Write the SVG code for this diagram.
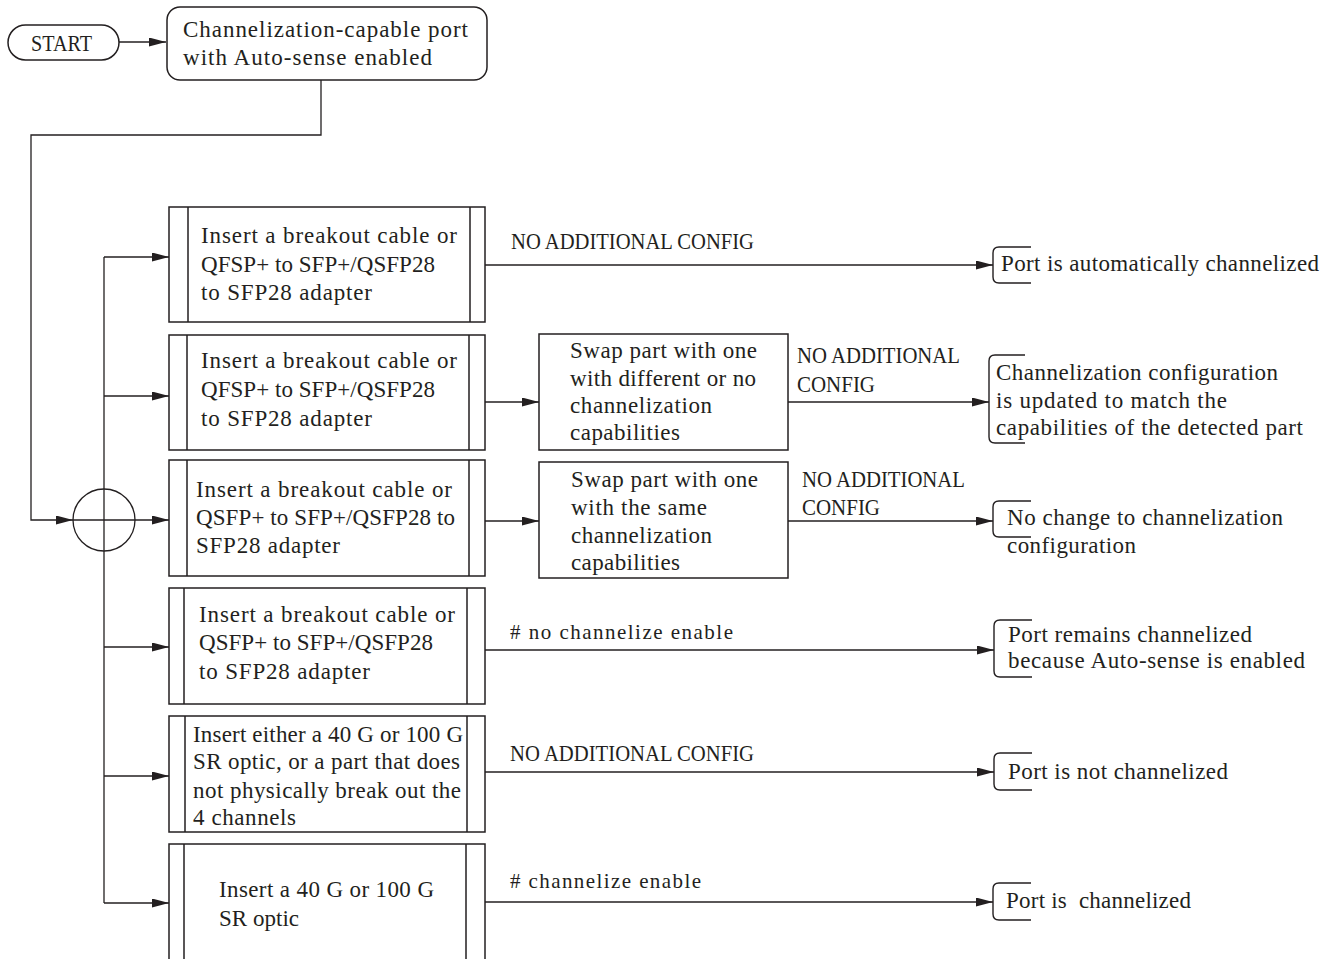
<svg xmlns="http://www.w3.org/2000/svg" width="1335" height="959" viewBox="0 0 1335 959">
<style>
  .bx { fill: #fff; stroke: #231f20; stroke-width: 1.5; }
  .bar { stroke: #231f20; stroke-width: 1.5; fill: none; }
  .ln { stroke: #231f20; stroke-width: 1.3; fill: none; }
  .t { font-family: "Liberation Serif", "Times New Roman", serif; font-size: 23px; fill: #231f20; }
  .lb { font-family: "Liberation Serif", "Times New Roman", serif; font-size: 21px; fill: #231f20; }
  .cap { font-size: 22.5px; }
  .br { stroke: #231f20; stroke-width: 1.4; fill: none; }
</style>
<defs>
  <marker id="ah" markerUnits="userSpaceOnUse" markerWidth="17" markerHeight="9" refX="17" refY="4.5" orient="auto">
    <path d="M0,0 L17,4.5 L0,9 z" fill="#231f20"/>
  </marker>
</defs>
<rect width="1335" height="959" fill="#fff"/>

<g id="connectors">
  <path class="ln" d="M119 42 H166" marker-end="url(#ah)"/>
  <path class="ln" d="M321 80 V135 H31 V520 H73" marker-end="url(#ah)"/>
  <path class="ln" d="M104 257 V903"/>
  <path class="ln" d="M104 257 H169" marker-end="url(#ah)"/>
  <path class="ln" d="M104 396 H169" marker-end="url(#ah)"/>
  <path class="ln" d="M135 520 H169" marker-end="url(#ah)"/>
  <path class="ln" d="M104 647 H169" marker-end="url(#ah)"/>
  <path class="ln" d="M104 776 H169" marker-end="url(#ah)"/>
  <path class="ln" d="M104 903 H169" marker-end="url(#ah)"/>
  <path class="ln" d="M485 265 H993" marker-end="url(#ah)"/>
  <path class="ln" d="M485 402 H539" marker-end="url(#ah)"/>
  <path class="ln" d="M788 402 H989" marker-end="url(#ah)"/>
  <path class="ln" d="M485 521 H539" marker-end="url(#ah)"/>
  <path class="ln" d="M788 521 H993" marker-end="url(#ah)"/>
  <path class="ln" d="M485 650 H994" marker-end="url(#ah)"/>
  <path class="ln" d="M485 772 H994" marker-end="url(#ah)"/>
  <path class="ln" d="M485 902 H993" marker-end="url(#ah)"/>
  <text class="lb cap" x="511" y="249" textLength="243" lengthAdjust="spacingAndGlyphs">NO ADDITIONAL CONFIG</text>
  <text class="lb cap" x="797" y="363" textLength="163" lengthAdjust="spacingAndGlyphs">NO ADDITIONAL</text>
  <text class="lb cap" x="797" y="392" textLength="78" lengthAdjust="spacingAndGlyphs">CONFIG</text>
  <text class="lb cap" x="802" y="487" textLength="163" lengthAdjust="spacingAndGlyphs">NO ADDITIONAL</text>
  <text class="lb cap" x="802" y="515" textLength="78" lengthAdjust="spacingAndGlyphs">CONFIG</text>
  <text class="lb" x="510" y="639" textLength="223"># no channelize enable</text>
  <text class="lb cap" x="510" y="761" textLength="244" lengthAdjust="spacingAndGlyphs">NO ADDITIONAL CONFIG</text>
  <text class="lb" x="510" y="888" textLength="191"># channelize enable</text>
</g>

<g id="start">
  <rect class="bx" x="8" y="25" width="111" height="35" rx="17.5"/>
  <text class="t" x="31" y="51" font-size="25" textLength="61" lengthAdjust="spacingAndGlyphs">START</text>
</g>

<g id="port-node">
  <rect class="bx" x="167" y="7" width="320" height="73" rx="13"/>
  <text class="t" x="183" y="37" textLength="285">Channelization-capable port</text>
  <text class="t" x="183" y="65" textLength="249">with Auto-sense enabled</text>
</g>

<g id="junction">
  <circle cx="104" cy="520" r="31" fill="none" stroke="#231f20" stroke-width="1.3"/>
  <path class="ln" d="M73 520 H135"/>
</g>

<g id="box1">
  <rect class="bx" x="169" y="207" width="316" height="115"/>
  <path class="bar" d="M188 207 V322 M470 207 V322"/>
  <text class="t" x="201" y="243" textLength="256">Insert a breakout cable or</text>
  <text class="t" x="201" y="272" textLength="234">QFSP+ to SFP+/QSFP28</text>
  <text class="t" x="201" y="300" textLength="171">to SFP28 adapter</text>
</g>

<g id="box2">
  <rect class="bx" x="169" y="335" width="316" height="115"/>
  <path class="bar" d="M187 335 V450 M469 335 V450"/>
  <text class="t" x="201" y="368" textLength="256">Insert a breakout cable or</text>
  <text class="t" x="201" y="397" textLength="234">QFSP+ to SFP+/QSFP28</text>
  <text class="t" x="201" y="426" textLength="171">to SFP28 adapter</text>
</g>

<g id="box3">
  <rect class="bx" x="169" y="460" width="316" height="116"/>
  <path class="bar" d="M187 460 V576 M469 460 V576"/>
  <text class="t" x="196" y="497" textLength="256">Insert a breakout cable or</text>
  <text class="t" x="196" y="525" textLength="259">QSFP+ to SFP+/QSFP28 to</text>
  <text class="t" x="196" y="553" textLength="144">SFP28 adapter</text>
</g>

<g id="box4">
  <rect class="bx" x="169" y="588" width="316" height="116"/>
  <path class="bar" d="M184 588 V704 M467 588 V704"/>
  <text class="t" x="199" y="622" textLength="256">Insert a breakout cable or</text>
  <text class="t" x="199" y="650" textLength="234">QSFP+ to SFP+/QSFP28</text>
  <text class="t" x="199" y="679" textLength="171">to SFP28 adapter</text>
</g>

<g id="box5">
  <rect class="bx" x="169" y="716" width="316" height="116"/>
  <path class="bar" d="M185 716 V832 M467 716 V832"/>
  <text class="t" x="193" y="742" textLength="270">Insert either a 40 G or 100 G</text>
  <text class="t" x="193" y="769" textLength="267">SR optic, or a part that does</text>
  <text class="t" x="193" y="798" textLength="268">not physically break out the</text>
  <text class="t" x="193" y="825" textLength="103">4 channels</text>
</g>

<g id="box6">
  <rect class="bx" x="169" y="844" width="316" height="130"/>
  <path class="bar" d="M184 844 V974 M466 844 V974"/>
  <text class="t" x="219" y="897" textLength="215">Insert a 40 G or 100 G</text>
  <text class="t" x="219" y="926" textLength="80">SR optic</text>
</g>

<g id="swap1">
  <rect class="bx" x="539" y="334" width="249" height="116"/>
  <text class="t" x="570" y="358" textLength="187">Swap part with one</text>
  <text class="t" x="570" y="386" textLength="186">with different or no</text>
  <text class="t" x="570" y="413" textLength="142">channelization</text>
  <text class="t" x="570" y="440" textLength="110">capabilities</text>
</g>

<g id="swap2">
  <rect class="bx" x="539" y="462" width="249" height="116"/>
  <text class="t" x="571" y="487" textLength="187">Swap part with one</text>
  <text class="t" x="571" y="515" textLength="136">with the same</text>
  <text class="t" x="571" y="543" textLength="141">channelization</text>
  <text class="t" x="571" y="570" textLength="109">capabilities</text>
</g>

<g id="result1">
  <path class="br" d="M1031 247 H999 Q993 247 993 253 V277 Q993 283 999 283 H1031"/>
  <text class="t" x="1001" y="271" textLength="318">Port is automatically channelized</text>
</g>

<g id="result2">
  <path class="br" d="M1025 355 H995 Q989 355 989 361 V437 Q989 443 995 443 H1025"/>
  <text class="t" x="996" y="380" textLength="282">Channelization configuration</text>
  <text class="t" x="996" y="408" textLength="231">is updated to match the</text>
  <text class="t" x="996" y="435" textLength="307">capabilities of the detected part</text>
</g>

<g id="result3">
  <path class="br" d="M1031 501 H999 Q993 501 993 507 V531 Q993 537 999 537 H1031"/>
  <text class="t" x="1007" y="525" textLength="276">No change to channelization</text>
  <text class="t" x="1007" y="553" textLength="129">configuration</text>
</g>

<g id="result4">
  <path class="br" d="M1032 620 H1000 Q994 620 994 626 V671 Q994 677 1000 677 H1032"/>
  <text class="t" x="1008" y="642" textLength="244">Port remains channelized</text>
  <text class="t" x="1008" y="668" textLength="297">because Auto-sense is enabled</text>
</g>

<g id="result5">
  <path class="br" d="M1032 753 H1000 Q994 753 994 759 V784 Q994 790 1000 790 H1032"/>
  <text class="t" x="1008" y="779" textLength="220">Port is not channelized</text>
</g>

<g id="result6">
  <path class="br" d="M1031 883 H999 Q993 883 993 889 V914 Q993 920 999 920 H1031"/>
  <text class="t" x="1006" y="908" textLength="185" xml:space="preserve">Port is  channelized</text>
</g>
</svg>
